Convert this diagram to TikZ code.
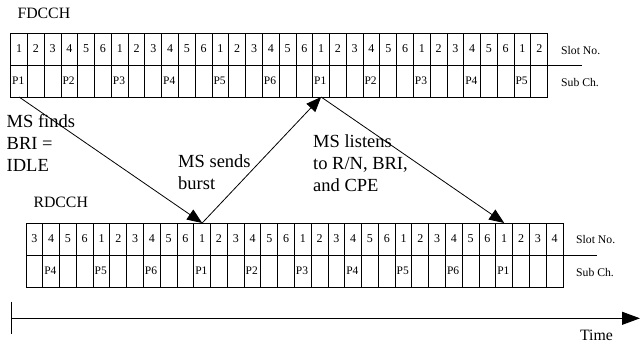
\documentclass[tikz,border=0pt]{standalone}
\usepackage{fontspec}
\setmainfont{Liberation Serif}
\usetikzlibrary{arrows.meta,positioning}

\def\cw{16.78}

\begin{document}
\begin{tikzpicture}[x=1pt, y=-1pt,
    slotcell/.style={draw, line width=0.9pt, minimum width=\cw pt, minimum height=32pt,
                     inner sep=0pt, outer sep=0pt, font=\fontsize{12}{14}\selectfont},
    plabel/.style={anchor=west, inner sep=1.3pt, font=\fontsize{11.5}{13}\selectfont},
    rowlabel/.style={anchor=west, inner sep=0pt, font=\fontsize{11.7}{14}\selectfont},
    chname/.style={anchor=north west, inner sep=0pt, font=\fontsize{15.8}{18}\selectfont},
    note/.style={anchor=north west, inner sep=0pt, align=left, font=\fontsize{18.5}{22}\selectfont},
    msgarrow/.style={line width=0.8pt, -{Triangle[length=15pt, width=12pt]}},
    timeline/.style={line width=1pt, -{Triangle[length=18pt, width=13pt]}},
]
\useasboundingbox (0,0) rectangle (640,346);

\def\fx{10.7}  \def\bx{26}

% FDCCH frame
\node[chname] (fname) at (17.3,8.3) {FDCCH};
\foreach \i in {0,...,31} {
    \pgfmathtruncatemacro{\slot}{mod(\i,6)+1}
    \node[slotcell] (fs\i) at (\fx+\i*\cw+0.5*\cw, 49) {\slot};
    \node[slotcell] (fp\i) at (\fx+\i*\cw+0.5*\cw, 81) {};
    \pgfmathtruncatemacro{\r}{mod(\i,3)}
    \ifnum\r=0
        \pgfmathtruncatemacro{\p}{mod(\i/3,6)+1}
        \node[plabel] at (fp\i.west) {P\p};
    \fi
}
\coordinate (fmidend) at (581.7,65);
\draw[line width=0.9pt] (fs31.south east) -- (fmidend);
\node[rowlabel] (fslot) at (561,50.5) {Slot No.};
\node[rowlabel] (fsub) at (561,82.5) {Sub Ch.};

% RDCCH frame
\node[chname] (rname) at (33.3,197) {RDCCH};
\foreach \i in {0,...,31} {
    \pgfmathtruncatemacro{\slot}{mod(\i+2,6)+1}
    \node[slotcell] (rs\i) at (\bx+\i*\cw+0.5*\cw, 239) {\slot};
    \node[slotcell] (rp\i) at (\bx+\i*\cw+0.5*\cw, 271) {};
}
\foreach \i in {1,4,...,28} {
    \pgfmathtruncatemacro{\p}{mod((\i-1)/3+3,6)+1}
    \node[plabel] at (rp\i.west) {P\p};
}
\coordinate (rmidend) at (596.7,255);
\draw[line width=0.9pt] (rs31.south east) -- (rmidend);
\node[rowlabel] (rslot) at (576,240) {Slot No.};
\node[rowlabel] (rsub) at (576,272.5) {Sub Ch.};

% Message arrows
\draw[msgarrow] (fp0.south) -- (rs10.north);
\draw[msgarrow] (rs10.north) -- (fp18.south);
\draw[msgarrow] (fp18.south) -- (rs28.north);

\node[note] (finds) at (6.5,114.5) {MS finds\\BRI =\\IDLE};
\node[note] (sends) at (178,154.5) {MS sends\\burst};
\node[note] (listens) at (313,134.5) {MS listens\\to R/N, BRI,\\and CPE};

% Time axis
\coordinate (tstart) at (11,318.3);
\coordinate (tend) at (640,318.3);
\coordinate (ticktop) at (11,301.7);
\coordinate (tickbot) at (11,334);
\draw[line width=1pt] (ticktop) -- (tickbot);
\draw[timeline] (tstart) -- (tend);
\node[chname, anchor=north] (timelbl) at (596.5,329.5) {Time};

\end{tikzpicture}
\end{document}
